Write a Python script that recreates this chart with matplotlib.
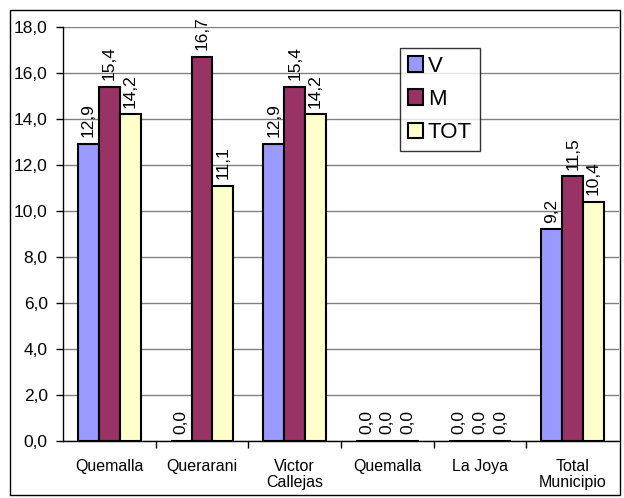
import matplotlib
matplotlib.use("Agg")
import matplotlib.pyplot as plt
import numpy as np
from matplotlib.patches import Rectangle

plt.rcParams['font.family'] = ['Liberation Sans', 'DejaVu Sans']

categories = ["Quemalla", "Querarani", "Victor\nCallejas", "Quemalla", "La Joya", "Total\nMunicipio"]
series_names = ["V", "M", "TOT"]
v_vals = [12.9, 0.0, 12.9, 0.0, 0.0, 9.2]
m_vals = [15.4, 16.7, 15.4, 0.0, 0.0, 11.5]
tot_vals = [14.2, 11.1, 14.2, 0.0, 0.0, 10.4]
colors = ["#9999FF", "#993366", "#FFFFCC"]
yticks = [0, 2, 4, 6, 8, 10, 12, 14, 16, 18]

fig = plt.figure(figsize=(6.24, 4.98), dpi=100)
fig.patches.append(Rectangle((10/624, 1 - 495/498), 610/624, 485/498, transform=fig.transFigure,
                             fill=False, edgecolor='black', linewidth=1.0))
ax = fig.add_axes([63/624, 1 - 441/498, 556/624, 414/498])

x = np.arange(len(categories))
w = 0.226
for i, (vals, c) in enumerate(zip([v_vals, m_vals, tot_vals], colors)):
    pos = x + (i - 1) * w
    ax.bar(pos, vals, width=w, color=c, edgecolor='black', linewidth=1.5, label=series_names[i], zorder=3)
    for p, v in zip(pos, vals):
        ax.text(p, v + 0.3, f"{v:.1f}".replace('.', ','), rotation=90, ha='center', va='bottom',
                fontsize=12.5, zorder=4)

ax.set_xlim(-0.5, len(categories) - 0.5)
ax.set_ylim(0, 18)
ax.set_yticks(yticks)
ax.set_yticklabels([f"{t:.1f}".replace('.', ',') for t in yticks], fontsize=12.5)
ax.yaxis.grid(True, color='#808080', linewidth=1.0, zorder=0)
ax.set_axisbelow(True)
ax.set_xticks(x)
ax.set_xticklabels(categories, fontsize=11.5, linespacing=1.1)
ax.tick_params(axis='x', length=0, pad=13)
ax.set_xticks(np.arange(len(categories) - 1) + 0.5, minor=True)
ax.tick_params(axis='x', which='minor', length=5, width=1, color='black', direction='out')
ax.tick_params(axis='y', length=5, width=1, direction='out', pad=6)
for s in ['top', 'right']:
    ax.spines[s].set_visible(False)
ax.spines['left'].set_linewidth(1.0)
ax.spines['bottom'].set_linewidth(1.0)

leg = ax.legend(loc='upper left', bbox_to_anchor=((400 - 63) / 556, (441 - 48) / 414),
                fontsize=16, frameon=True, fancybox=False, edgecolor='black',
                handlelength=0.7, handleheight=0.7, handletextpad=0.2, labelspacing=0.55,
                borderpad=0.35, borderaxespad=0)
leg.get_frame().set_linewidth(1.0)
for h in leg.legend_handles:
    h.set_linewidth(1.5)

fig.savefig("out.png", dpi=100)
